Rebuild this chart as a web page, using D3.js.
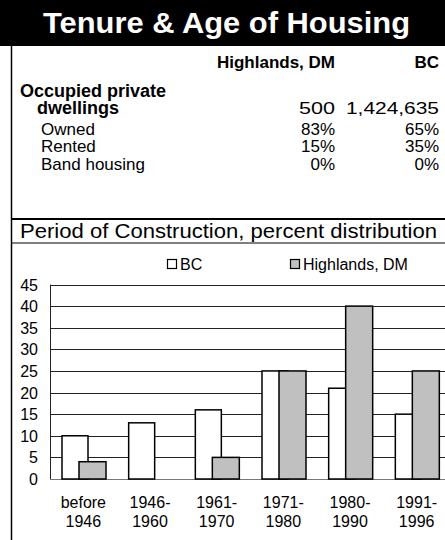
<!DOCTYPE html>
<html>
<head>
<meta charset="utf-8">
<script src="https://cdn.jsdelivr.net/npm/d3@7/dist/d3.min.js"></script>
<style>
  html, body { margin: 0; padding: 0; background: #fff; }
  svg { display: block; font-family: "Liberation Sans", Arial, sans-serif; }
</style>
</head>
<body>
<div id="chart"></div>
<script>
/* ── Data ─────────────────────────────────────────────── */
const title = 'Tenure & Age of Housing';
const regions = ['Highlands, DM', 'BC'];
const tableRows = ['Owned', 'Rented', 'Band housing'];
const dwellings = ['500', '1,424,635'];
const highlandsTenure = ['83%', '15%', '0%'];
const bcTenure = ['65%', '35%', '0%'];

const chartTitle = 'Period of Construction, percent distribution';
const periods = [['before', '1946'], ['1946-', '1960'], ['1961-', '1970'],
                 ['1971-', '1980'], ['1980-', '1990'], ['1991-', '1996']];
const seriesNames = ['BC', 'Highlands, DM'];
const bcValues = [10, 13, 16, 25, 21, 15];
const highlandsValues = [4, 0, 5, 25, 40, 25];
const yTicks = [0, 5, 10, 15, 20, 25, 30, 35, 40, 45];

/* ── Layout ───────────────────────────────────────────── */
const W = 445, H = 540;
const svg = d3.select('#chart').append('svg').attr('width', W).attr('height', H);

svg.append('rect').attr('width', W).attr('height', 46).attr('fill', '#000');
svg.append('text').attr('x', 43).attr('y', 33)
  .attr('fill', '#fff').attr('font-weight', 'bold').attr('font-size', 29)
  .attr('textLength', 367).attr('lengthAdjust', 'spacingAndGlyphs').text(title);

// frame lines
svg.append('line').attr('x1', 11.5).attr('x2', 11.5).attr('y1', 46).attr('y2', H)
  .attr('stroke', '#000').attr('stroke-width', 1.5);
svg.append('line').attr('x1', 11).attr('x2', W).attr('y1', 219).attr('y2', 219)
  .attr('stroke', '#000').attr('stroke-width', 2);
svg.append('line').attr('x1', 11).attr('x2', W).attr('y1', 243).attr('y2', 243)
  .attr('stroke', '#000').attr('stroke-width', 1.2);

/* ── Table ────────────────────────────────────────────── */
const colX = [335, 439];
const tbl = svg.append('g').attr('font-size', 17).attr('fill', '#000');
regions.forEach((r, i) => {
  tbl.append('text').attr('x', colX[i]).attr('y', 68).attr('text-anchor', 'end')
    .attr('font-weight', 'bold').text(r);
});
tbl.append('text').attr('x', 20).attr('y', 97).attr('font-weight', 'bold').attr('font-size', 18).text('Occupied private');
tbl.append('text').attr('x', 37).attr('y', 114).attr('font-weight', 'bold').attr('font-size', 18).text('dwellings');
const dwellW = [36, 93];
dwellings.forEach((v, i) => {
  tbl.append('text').attr('x', colX[i] - dwellW[i]).attr('y', 114)
    .attr('textLength', dwellW[i]).attr('lengthAdjust', 'spacingAndGlyphs').text(v);
});
const rowY = [135, 152, 170];
tableRows.forEach((r, j) => {
  tbl.append('text').attr('x', 41).attr('y', rowY[j]).text(r);
  tbl.append('text').attr('x', colX[0]).attr('y', rowY[j]).attr('text-anchor', 'end').text(highlandsTenure[j]);
  tbl.append('text').attr('x', colX[1]).attr('y', rowY[j]).attr('text-anchor', 'end').text(bcTenure[j]);
});

svg.append('text').attr('x', 20).attr('y', 238)
  .attr('font-size', 20).attr('textLength', 417).attr('lengthAdjust', 'spacingAndGlyphs')
  .text(chartTitle);

/* ── Bar chart ────────────────────────────────────────── */
const plot = { left: 50, right: 450, top: 284.5, bottom: 479 };

const x = d3.scaleBand().domain(d3.range(periods.length))
  .range([plot.left, plot.right]).padding(0);
const y = d3.scaleLinear().domain([0, 45]).range([plot.bottom, plot.top]);
const bw = x.bandwidth();

// gridlines
svg.append('g').selectAll('line').data(yTicks).join('line')
  .attr('x1', plot.left).attr('x2', plot.right)
  .attr('y1', d => Math.round(y(d)) + 0.5).attr('y2', d => Math.round(y(d)) + 0.5)
  .attr('stroke', d => d === 0 ? '#777' : '#222').attr('stroke-width', 1);
svg.append('line').attr('x1', plot.left + 0.5).attr('x2', plot.left + 0.5)
  .attr('y1', plot.top).attr('y2', plot.bottom).attr('stroke', '#222');

// y tick labels
svg.append('g').attr('font-size', 16).selectAll('text').data(yTicks).join('text')
  .attr('x', 38).attr('y', d => y(d) + 6).attr('text-anchor', 'end').text(d => d);

// bars
const series = [
  { values: bcValues, fill: '#fff', off: 0.18, w: 0.39 },
  { values: highlandsValues, fill: '#c0c0c0', off: 0.435, w: 0.405 }
];
series.forEach(s => {
  svg.append('g').selectAll('rect').data(s.values).join('rect')
    .attr('x', (d, i) => x(i) + bw * s.off)
    .attr('y', d => y(d))
    .attr('width', bw * s.w)
    .attr('height', d => y(0) - y(d))
    .attr('fill', s.fill)
    .attr('stroke', '#000').attr('stroke-width', 1.5);
});

// x labels
const xl = svg.append('g').attr('font-size', 16).attr('text-anchor', 'middle');
periods.forEach((p, i) => {
  xl.append('text').attr('x', x(i) + bw / 2).attr('y', 508).text(p[0]);
  xl.append('text').attr('x', x(i) + bw / 2).attr('y', 527).text(p[1]);
});

// legend
const legendX = [167, 290];
seriesNames.forEach((n, i) => {
  svg.append('rect').attr('x', legendX[i] + 0.5).attr('y', 259.5).attr('width', 9).attr('height', 9)
    .attr('fill', series[i].fill).attr('stroke', '#000').attr('stroke-width', 1.2);
  svg.append('text').attr('x', legendX[i] + 13).attr('y', 270).attr('font-size', 16).text(n);
});
</script>
</body>
</html>
